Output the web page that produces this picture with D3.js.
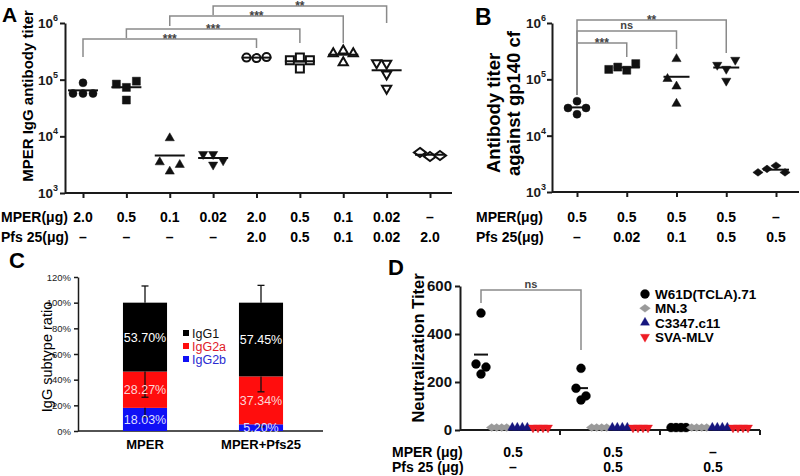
<!DOCTYPE html>
<html>
<head>
<meta charset="utf-8">
<script src="https://cdn.jsdelivr.net/npm/d3@7"></script>
<style>
  body { margin: 0; background: #fff; }
  svg text { font-family: "Liberation Sans", Arial, sans-serif; }
</style>
</head>
<body>
<div id="vis"></div>
<script>
// ---- panel A: MPER IgG titers ----
const mperA = ['2.0', '0.5', '0.1', '0.02', '2.0', '0.5', '0.1', '0.02', '–'];
const pfsA = ['–', '–', '–', '–', '2.0', '0.5', '0.1', '0.02', '2.0'];
const titersA = [
  [88000, 57000, 57000, 57000],
  [73000, 83500, 94000, 43700],
  [9300, 2400, 3500, 3150],
  [4850, 4850, 3150, 3750],
  [240000, 245000, 250000],
  [246000, 221000, 221000, 157000],
  [322000, 290000, 290000, 201000],
  [193000, 198000, 125000, 70000],
  [4400, 5200, 4600]
];
const compareA = [[0, 4, '***'], [1, 5, '***'], [2, 6, '***'], [3, 7, '**']];

// ---- panel B: titers against gp140 cf ----
const mperB = ['0.5', '0.5', '0.5', '0.5', '–'];
const pfsB = ['–', '0.02', '0.1', '0.5', '0.5'];
const titersB = [
  [41000, 24000, 31000, 31000],
  [145000, 165000, 190000, 150000],
  [230000, 75000, 102000, 37000],
  [153000, 180000, 221000, 94000],
  [2930, 2570, 2230, 2230]
];
const compareB = [[0, 1, '***'], [0, 2, 'ns'], [0, 3, '**']];

// ---- panel C: IgG subtype ratio ----
const vaccinesC = ['MPER', 'MPER+Pfs25'];
const subtypes = ['IgG1', 'IgG2a', 'IgG2b'];
const igg1 = [53.70, 57.45];
const igg2a = [28.27, 37.34];
const igg2b = [18.03, 5.20];
const errIgg1 = [13, 13.5];
const errIgg2a = [20, 12];
const errIgg2b = [7, 2];

// ---- panel D: neutralization ----
const seriesD = ['W61D(TCLA).71', 'MN.3', 'C3347.c11', 'SVA-MLV'];
const mperD = ['0.5', '0.5', '–'];
const pfsD = ['–', '0.5', '0.5'];
const w61d = [[487, 233, 275, 262], [257, 125, 174, 142], [10, 10, 10, 10]];
const mn3 = [[10, 10, 10, 10], [10, 10, 10, 10], [10, 10, 10, 10]];
const c3347 = [[10, 10, 10, 10], [10, 10, 10, 10], [10, 10, 10, 10]];
const svaMlv = [[10, 10, 10, 10], [10, 10, 10, 10], [10, 10, 10, 10]];

const svg = d3.select('#vis').append('svg').attr('width', 800).attr('height', 476);

function markerPath(shape, r) {
  if (shape === 'circle') return d3.symbol(d3.symbolCircle, Math.PI * r * r)();
  if (shape === 'square') return d3.symbol(d3.symbolSquare, 4 * r * r)();
  if (shape === 'up' || shape === 'down') return d3.symbol(d3.symbolTriangle, r * r * 2.3)();
  return `M0,${-r}L${r * 1.35},0L0,${r}L${-r * 1.35},0Z`;
}

// spread points that sit at the same height side by side
function dodge(vals, y, step, dist) {
  const placed = [];
  return vals.map(v => {
    const py = y(v);
    for (const k of [0, -1, 1, -2, 2, -3, 3]) {
      const dx = k * step;
      if (!placed.some(p => Math.abs(p.dx - dx) < step / 2 && Math.abs(p.y - py) < dist)) {
        placed.push({dx: dx, y: py});
        return {v: v, dx: dx, y: py};
      }
    }
  });
}

function drawMarker(g, shape, x, y, r, fill, stroke, sw) {
  g.append('path')
    .attr('d', markerPath(shape, r))
    .attr('transform', `translate(${x},${y})` + (shape === 'down' ? ' rotate(180)' : ''))
    .attr('fill', fill).attr('stroke', stroke).attr('stroke-width', sw);
}

function styleAxis(sel, w) {
  sel.select('.domain').attr('stroke', '#1a1a1a').attr('stroke-width', w);
  sel.selectAll('.tick line').attr('stroke', '#1a1a1a').attr('stroke-width', w);
}

function logLabels(g, y, x) {
  [3, 4, 5, 6].forEach(p => {
    const t = g.append('text').attr('x', x).attr('y', y(Math.pow(10, p)) + 5)
      .attr('text-anchor', 'end').attr('font-weight', 'bold').attr('fill', '#1a1a1a');
    t.append('tspan').attr('font-size', 13.5).text('10');
    t.append('tspan').attr('font-size', 9).attr('dy', -7).text(p);
  });
}

function bracket(g, x1, x2, top, end1, end2, label) {
  g.append('path')
    .attr('d', `M${x1},${end1}V${top}H${x2}V${end2}`)
    .attr('fill', 'none').attr('stroke', '#8a8a8a').attr('stroke-width', 1.5);
  g.append('text').attr('x', (x1 + x2) / 2).attr('y', label === 'ns' ? top - 2 : top + 4)
    .attr('text-anchor', 'middle').attr('font-size', label === 'ns' ? 11 : 12)
    .attr('font-weight', 'bold').attr('fill', '#444').text(label);
}

function rowLabels(g, x, xs, labels, y, size) {
  g.selectAll(null).data(labels).join('text')
    .attr('x', (d, i) => xs(i)).attr('y', y)
    .attr('text-anchor', 'middle').attr('font-size', size).attr('font-weight', 'bold')
    .text(d => d);
}

function panelLetter(x, y, size, s) {
  svg.append('text').attr('x', x).attr('y', y).attr('font-size', size)
    .attr('font-weight', 'bold').text(s);
}

// =============== A ===============
const shapesA = ['circle', 'square', 'up', 'down', 'circle', 'square', 'up', 'down', 'diamond'];
const xA = d3.scalePoint().domain(d3.range(titersA.length)).range([83, 430]);
const yA = d3.scaleLog().domain([1e3, 1e6]).range([193, 23]);
const gA = svg.append('g');

gA.append('g').attr('transform', 'translate(65,0)')
  .call(d3.axisLeft(yA).tickValues([1e3, 1e4, 1e5, 1e6]).tickFormat('').tickSize(5).tickSizeOuter(0))
  .call(s => styleAxis(s, 2));
gA.append('line').attr('x1', 65).attr('x2', 452).attr('y1', 193).attr('y2', 193)
  .attr('stroke', '#1a1a1a').attr('stroke-width', 2);
gA.append('g').attr('transform', 'translate(0,193)')
  .call(d3.axisBottom(xA).tickFormat('').tickSize(5).tickSizeOuter(0))
  .call(s => { styleAxis(s, 2); s.select('.domain').remove(); });
logLabels(gA, yA, 58);

titersA.forEach((vals, i) => {
  const open = i >= 4;
  dodge(vals, yA, 10, 10).forEach(p => {
    drawMarker(gA, shapesA[i], xA(i) + p.dx, p.y, shapesA[i] === 'diamond' ? 4.5 : 4,
      open ? '#fff' : '#111', '#111', open ? 2 : 0.5);
  });
  const m = yA(d3.mean(vals));
  gA.append('line').attr('x1', xA(i) - 15).attr('x2', xA(i) + 15).attr('y1', m).attr('y2', m)
    .attr('stroke', '#111').attr('stroke-width', 2);
});

const tops = [39, 29, 16, 6], leftEnds = [57, 38, 26, 15], rightEnds = [48, 43, 43, 23];
compareA.forEach((c, k) => bracket(gA, xA(c[0]), xA(c[1]), tops[k], leftEnds[k], rightEnds[k], c[2]));

gA.append('text').attr('transform', 'translate(33,96) rotate(-90)')
  .attr('text-anchor', 'middle').attr('font-size', 15).attr('font-weight', 'bold')
  .text('MPER IgG antibody titer');
gA.append('text').attr('x', 1).attr('y', 222).attr('font-size', 14).attr('font-weight', 'bold').text('MPER(μg)');
gA.append('text').attr('x', 1).attr('y', 242).attr('font-size', 14).attr('font-weight', 'bold').text('Pfs 25(μg)');
rowLabels(gA, 0, xA, mperA, 222, 14);
rowLabels(gA, 0, xA, pfsA, 242, 14);
panelLetter(2, 22, 21, 'A');

// =============== B ===============
const shapesB = ['circle', 'square', 'up', 'down', 'diamond'];
const xB = d3.scalePoint().domain(d3.range(titersB.length)).range([577, 776]);
const yB = d3.scaleLog().domain([1e3, 1e6]).range([192, 23]);
const gB = svg.append('g');

gB.append('g').attr('transform', 'translate(552,0)')
  .call(d3.axisLeft(yB).tickValues([1e3, 1e4, 1e5, 1e6]).tickFormat('').tickSize(5).tickSizeOuter(0))
  .call(s => styleAxis(s, 2));
gB.append('line').attr('x1', 552).attr('x2', 799).attr('y1', 192).attr('y2', 192)
  .attr('stroke', '#1a1a1a').attr('stroke-width', 2);
gB.append('g').attr('transform', 'translate(0,192)')
  .call(d3.axisBottom(xB).tickFormat('').tickSize(5).tickSizeOuter(0))
  .call(s => { styleAxis(s, 2); s.select('.domain').remove(); });
logLabels(gB, yB, 546);

titersB.forEach((vals, i) => {
  dodge(vals, yB, 9, 9.5).forEach(p => {
    drawMarker(gB, shapesB[i], xB(i) + p.dx, p.y, shapesB[i] === 'diamond' ? 3.8 : 4, '#111', '#111', 0.5);
  });
  const m = yB(d3.mean(vals));
  gB.append('line').attr('x1', xB(i) - 13).attr('x2', xB(i) + 13).attr('y1', m).attr('y2', m)
    .attr('stroke', '#111').attr('stroke-width', 2);
});

const topsB = [43, 31, 20], rightB = [57, 49, 53];
compareB.forEach((c, k) => bracket(gB, xB(c[0]), xB(c[1]), topsB[k], 95, rightB[k], c[2]));

gB.append('text').attr('transform', 'translate(500,173) rotate(-90)')
  .attr('font-size', 18.5).attr('font-weight', 'bold').text('Antibody titer');
gB.append('text').attr('transform', 'translate(520,176) rotate(-90)')
  .attr('font-size', 18.5).attr('font-weight', 'bold').text('against gp140 cf');
gB.append('text').attr('x', 476).attr('y', 222).attr('font-size', 14).attr('font-weight', 'bold').text('MPER(μg)');
gB.append('text').attr('x', 476).attr('y', 242).attr('font-size', 14).attr('font-weight', 'bold').text('Pfs 25(μg)');
rowLabels(gB, 0, xB, mperB, 222, 14);
rowLabels(gB, 0, xB, pfsB, 242, 14);
panelLetter(475, 25, 23, 'B');

// =============== C ===============
const colorC = {IgG1: '#000000', IgG2a: '#ff0d0d', IgG2b: '#1010f5'};
const labelColorC = {IgG1: '#ffffff', IgG2a: '#fcd6d6', IgG2b: '#dedeff'};
const errC = {IgG1: errIgg1, IgG2a: errIgg2a, IgG2b: errIgg2b};
const rowsC = vaccinesC.map((v, i) => ({vaccine: v, IgG2b: igg2b[i], IgG2a: igg2a[i], IgG1: igg1[i]}));
const stackC = d3.stack().keys(['IgG2b', 'IgG2a', 'IgG1'])(rowsC);
const xC = d3.scaleBand().domain(vaccinesC).range([87, 319]).paddingInner(0.62).paddingOuter(0.31);
const yC = d3.scaleLinear().domain([0, 120]).range([431, 277]);
const gC = svg.append('g');

gC.append('g').attr('transform', 'translate(78,0)')
  .call(d3.axisLeft(yC).tickValues(d3.range(0, 121, 20)).tickFormat(d => d + '%').tickSize(4).tickSizeOuter(0))
  .call(s => {
    styleAxis(s, 1.5);
    s.selectAll('.tick text').attr('font-size', 9.5).attr('fill', '#222').attr('font-family', 'Lato, sans-serif');
  });
gC.append('line').attr('x1', 78).attr('x2', 323).attr('y1', 431).attr('y2', 431)
  .attr('stroke', '#1a1a1a').attr('stroke-width', 1.5);

stackC.forEach(layer => {
  const key = layer.key;
  layer.forEach(d => {
    gC.append('rect').attr('x', xC(d.data.vaccine)).attr('y', yC(d[1])).attr('width', xC.bandwidth())
      .attr('height', yC(d[0]) - yC(d[1])).attr('fill', colorC[key]);
  });
});
stackC.forEach(layer => {
  const key = layer.key;
  layer.forEach((d, i) => {
    const cx = xC(d.data.vaccine) + xC.bandwidth() / 2;
    const e = errC[key][i];
    const end = key === 'IgG1' ? d[1] + e : d[1] - e;
    gC.append('line').attr('x1', cx).attr('x2', cx).attr('y1', yC(d[1])).attr('y2', yC(end))
      .attr('stroke', '#111').attr('stroke-width', 1.3);
    gC.append('line').attr('x1', cx - 3.5).attr('x2', cx + 3.5).attr('y1', yC(end)).attr('y2', yC(end))
      .attr('stroke', '#111').attr('stroke-width', 1.3);
    gC.append('text').attr('x', cx).attr('y', yC((d[0] + d[1]) / 2) + 4.5)
      .attr('text-anchor', 'middle').attr('font-size', 12.5).attr('fill', labelColorC[key])
      .attr('font-family', 'Lato, sans-serif')
      .text(d3.format('.2f')(d[1] - d[0]) + '%');
  });
});

subtypes.forEach((s, k) => {
  gC.append('rect').attr('x', 183).attr('y', 330 + k * 13).attr('width', 6).attr('height', 6).attr('fill', colorC[s]);
  gC.append('text').attr('x', 192).attr('y', 338 + k * 13).attr('font-size', 12.5)
    .attr('font-family', 'Lato, sans-serif')
    .attr('fill', s === 'IgG1' ? '#111' : (s === 'IgG2a' ? '#e0202a' : '#2a2ad0')).text(s);
});

gC.selectAll(null).data(vaccinesC).join('text')
  .attr('x', d => xC(d) + xC.bandwidth() / 2).attr('y', 449)
  .attr('text-anchor', 'middle').attr('font-size', 13).attr('font-weight', 'bold')
  .attr('font-family', 'Lato, sans-serif').text(d => d);
gC.append('text').attr('transform', 'translate(52,357) rotate(-90)')
  .attr('text-anchor', 'middle').attr('font-size', 14.5).attr('font-family', 'Lato, sans-serif')
  .text('IgG subtype ratio');
panelLetter(9, 268, 22, 'C');

// =============== D ===============
const valuesD = [w61d, mn3, c3347, svaMlv];
const shapesD = ['circle', 'diamond', 'up', 'down'];
const colorsD = ['#000000', '#9a9a9a', '#16167e', '#ee1c24'];
const xD = d3.scaleBand().domain(d3.range(mperD.length)).range([460, 760]);
const subD = d3.scalePoint().domain(seriesD).range([21, 83]);
const yD = d3.scaleLinear().domain([0, 600]).range([430, 286]);
const gD = svg.append('g');

gD.append('g').attr('transform', 'translate(460,0)')
  .call(d3.axisLeft(yD).tickValues([0, 200, 400, 600]).tickSize(5).tickSizeOuter(0))
  .call(s => {
    styleAxis(s, 2);
    s.selectAll('.tick text').attr('font-size', 15).attr('font-weight', 'bold').attr('fill', '#111')
      .attr('font-family', '"Liberation Sans", Arial, sans-serif');
  });
gD.append('line').attr('x1', 460).attr('x2', 760).attr('y1', 430).attr('y2', 430)
  .attr('stroke', '#1a1a1a').attr('stroke-width', 2);
gD.selectAll(null).data(d3.range(1, mperD.length + 1)).join('line')
  .attr('x1', i => xD(i - 1) + xD.bandwidth()).attr('x2', i => xD(i - 1) + xD.bandwidth())
  .attr('y1', 430).attr('y2', 435).attr('stroke', '#1a1a1a').attr('stroke-width', 2);

mperD.forEach((_, gi) => {
  const m = d3.mean(w61d[gi]);
  const cx = xD(gi) + subD(seriesD[0]);
  if (m > 50) {
    gD.append('line').attr('x1', cx - 7).attr('x2', cx + 7).attr('y1', yD(m)).attr('y2', yD(m))
      .attr('stroke', '#111').attr('stroke-width', 2);
  }
  valuesD.forEach((ser, si) => {
    const bx = xD(gi) + subD(seriesD[si]);
    dodge(ser[gi], yD, 5, 12).forEach(p => {
      drawMarker(gD, shapesD[si], bx + p.dx, p.y, si === 0 ? 4.5 : 4, colorsD[si], colorsD[si], 0.3);
    });
  });
});

bracket(gD, xD(0) + subD(seriesD[0]), xD(1) + subD(seriesD[0]), 290, 303, 350, 'ns');

seriesD.forEach((s, k) => {
  const y = 294 + k * 14.3;
  drawMarker(gD, shapesD[k], 645, y, k === 0 ? 4.5 : 4, colorsD[k], colorsD[k], 0.3);
  gD.append('text').attr('x', 655).attr('y', y + 5).attr('font-size', 13.5).attr('font-weight', 'bold').text(s);
});

gD.append('text').attr('transform', 'translate(424,348) rotate(-90)')
  .attr('text-anchor', 'middle').attr('font-size', 16.5).attr('font-weight', 'bold')
  .text('Neutralization Titer');
gD.append('text').attr('x', 392).attr('y', 457).attr('font-size', 14).attr('font-weight', 'bold').text('MPER (μg)');
gD.append('text').attr('x', 392).attr('y', 472).attr('font-size', 14).attr('font-weight', 'bold').text('Pfs 25 (μg)');
const centerD = i => xD(i) + xD.bandwidth() / 2 + 3;
rowLabels(gD, 0, centerD, mperD, 457, 14);
rowLabels(gD, 0, centerD, pfsD, 472, 14);
panelLetter(388, 275, 22, 'D');
</script>
</body>
</html>
